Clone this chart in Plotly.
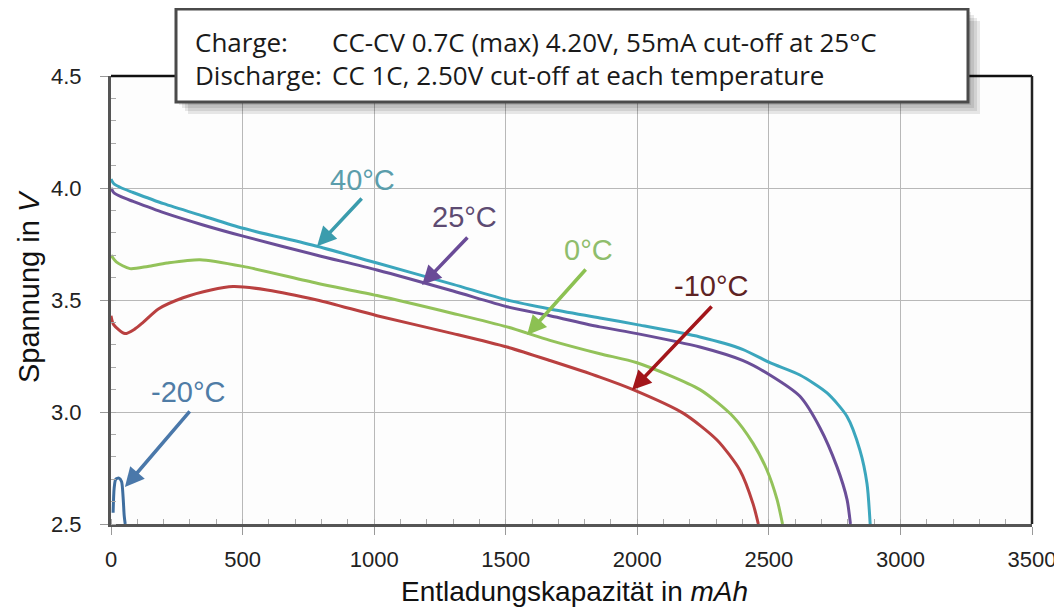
import plotly.graph_objects as go

# ---------------- data ----------------
x_40 = [0, 10, 40, 84, 200, 350, 502, 783, 1011, 1300, 1505, 1668, 1858, 1999, 2238, 2400, 2504, 2618, 2721, 2797, 2846, 2873, 2885]
v_40 = [4.04, 4.02, 4.00, 3.98, 3.93, 3.875, 3.82, 3.74, 3.665, 3.57, 3.50, 3.46, 3.42, 3.39, 3.335, 3.28, 3.22, 3.165, 3.085, 2.98, 2.83, 2.68, 2.50]

x_25 = [0, 10, 40, 84, 200, 350, 502, 783, 1011, 1300, 1505, 1668, 1858, 1999, 2238, 2400, 2504, 2618, 2694, 2759, 2797, 2810]
v_25 = [4.00, 3.98, 3.96, 3.94, 3.89, 3.835, 3.785, 3.70, 3.634, 3.54, 3.47, 3.43, 3.38, 3.35, 3.29, 3.23, 3.165, 3.07, 2.93, 2.755, 2.61, 2.50]

x_0 = [0, 20, 72, 140, 213, 338, 502, 783, 1011, 1300, 1505, 1668, 1858, 1999, 2238, 2364, 2440, 2493, 2531, 2552]
v_0 = [3.70, 3.67, 3.64, 3.65, 3.665, 3.68, 3.65, 3.575, 3.52, 3.44, 3.38, 3.32, 3.26, 3.22, 3.10, 2.98, 2.86, 2.74, 2.61, 2.50]

x_m10 = [0, 10, 53, 90, 122, 180, 274, 380, 464, 593, 783, 1011, 1300, 1505, 1668, 1858, 1984, 2174, 2303, 2390, 2440, 2460]
v_m10 = [3.43, 3.39, 3.35, 3.37, 3.40, 3.46, 3.51, 3.545, 3.56, 3.545, 3.50, 3.43, 3.35, 3.29, 3.23, 3.156, 3.10, 2.995, 2.875, 2.74, 2.59, 2.50]

x_m20 = [8, 12, 18, 30, 40, 46, 50, 54]
v_m20 = [2.55, 2.66, 2.70, 2.705, 2.69, 2.62, 2.54, 2.50]

x_ticks = [0, 500, 1000, 1500, 2000, 2500, 3000, 3500]
y_ticks = [2.5, 3.0, 3.5, 4.0, 4.5]

# label text positions, arrow tails and heads (data coordinates)
labels = ["40°C", "25°C", "0°C", "-10°C", "-20°C"]
label_x = [954, 1345, 1815, 2280, 293]
label_y = [4.036, 3.87, 3.723, 3.5625, 3.089]
tail_x = [958, 1360, 1809, 2288, 304]
tail_y = [3.96, 3.786, 3.643, 3.478, 3.009]
head_x = [783, 1182, 1581, 1980, 53]
head_y = [3.74, 3.567, 3.344, 3.098, 2.665]

line_colors = ["#3ba6bd", "#6a4e98", "#93c25a", "#b94040", "#3f6e9f"]
label_colors = ["#5b9dab", "#5d4b72", "#8fbd6c", "#5e2323", "#4f7ca6"]
arrow_colors = ["#3b9cad", "#6a4b97", "#8cc152", "#a3161b", "#4a78aa"]

box_line1_left = "Charge:"
box_line2_left = "Discharge:"
box_line1_right = "CC-CV 0.7C (max) 4.20V, 55mA cut-off at 25°C"
box_line2_right = "CC 1C, 2.50V cut-off at each temperature"
x_title = "Entladungskapazität in <i>mAh</i>"
y_title = "Spannung in <i>V</i>"

# ---------------- figure ----------------
# the page body has an 8px margin, so the figure starts at (8, 8) on screen
OFF = 8
W, H = 1062 - OFF, 610 - OFF
L, R, T, B = 111, 1032, 76, 524  # plot area in screen pixels


def px_x(p):
    return (p - L) / (R - L)


def px_y(p):
    return (B - p) / (B - T)


fig = go.Figure()
series = [(x_40, v_40), (x_25, v_25), (x_0, v_0), (x_m10, v_m10), (x_m20, v_m20)]
for i, (xs, ys) in enumerate(series):
    fig.add_trace(go.Scatter(
        x=xs, y=ys, mode="lines",
        line=dict(color=line_colors[i], width=3, shape="spline", smoothing=0.7),
        name=labels[i], showlegend=False))

annotations = []
for i in range(len(labels)):
    annotations.append(dict(
        x=label_x[i], y=label_y[i], xref="x", yref="y", text=labels[i],
        showarrow=False, font=dict(family="Liberation Sans, Arial", size=29, color=label_colors[i])))
    annotations.append(dict(
        x=head_x[i], y=head_y[i], xref="x", yref="y",
        ax=tail_x[i], ay=tail_y[i], axref="x", ayref="y", text="",
        showarrow=True, arrowhead=2, arrowsize=1.1, arrowwidth=3.5, arrowcolor=arrow_colors[i]))

box_font = dict(family="Open Sans, sans-serif", size=26, color="#1a1a1a")
for txt, xp, yp in [(box_line1_left, 193, 42), (box_line2_left, 193, 75),
                    (box_line1_right, 330, 42), (box_line2_right, 330, 75)]:
    annotations.append(dict(x=px_x(xp), y=px_y(yp), xref="paper", yref="paper", text=txt,
                            showarrow=False, xanchor="left", yanchor="middle", font=box_font))

annotations.append(dict(x=px_x(574), y=px_y(591), xref="paper", yref="paper", text=x_title,
                        showarrow=False, xanchor="center", yanchor="middle",
                        font=dict(family="Liberation Sans, Arial", size=28, color="#111111")))
annotations.append(dict(x=px_x(29), y=px_y(287), xref="paper", yref="paper", text=y_title,
                        showarrow=False, xanchor="center", yanchor="middle", textangle=-90,
                        font=dict(family="Liberation Sans, Arial", size=29, color="#111111")))

shapes = [
    dict(type="line", xref="paper", yref="paper", x0=0, x1=1, y0=1, y1=1,
         line=dict(color="#111111", width=2.5), layer="above"),
    dict(type="line", xref="paper", yref="paper", x0=1, x1=1, y0=0, y1=1,
         line=dict(color="#222222", width=2.5), layer="above"),
]
for k in range(4):
    off = 3 + 3 * k
    shapes.append(dict(type="rect", xref="paper", yref="paper",
                       x0=px_x(176 + off), x1=px_x(968 + off), y0=px_y(102 + off), y1=px_y(9 + off),
                       line=dict(width=0), fillcolor="rgba(0,0,0,0.09)", layer="above"))
shapes.append(dict(type="rect", xref="paper", yref="paper",
                   x0=px_x(176), x1=px_x(968), y0=px_y(102), y1=px_y(9),
                   line=dict(color="#4a4a4a", width=3), fillcolor="white", layer="above"))

fig.update_layout(
    width=W, height=H,
    margin=dict(l=L - OFF, r=W - (R - OFF), t=T - OFF, b=H - (B - OFF), autoexpand=False),
    paper_bgcolor="white", plot_bgcolor="#fdfdfd",
    annotations=annotations, shapes=shapes,
    showlegend=False,
    font=dict(family="Liberation Sans, Arial", color="#222222"),
)
fig.update_xaxes(
    range=[0, 3500], tickvals=x_ticks, ticktext=[str(v) for v in x_ticks],
    showgrid=True, gridcolor="#b8b8b8", gridwidth=1.2, zeroline=False,
    showline=True, linecolor="#555555", linewidth=3,
    ticks="outside", ticklen=8, tickcolor="#999999", tickwidth=1,
    minor=dict(dtick=100, ticks="inside", ticklen=5, tickcolor="#aaaaaa", showgrid=False),
    tickfont=dict(size=22, color="#222222"), automargin=False, ticklabelstandoff=6,
    ticklabeloverflow="allow",
)
fig.update_yaxes(
    range=[2.5, 4.5], tickvals=y_ticks, ticktext=["%.1f" % v for v in y_ticks],
    showgrid=True, gridcolor="#b8b8b8", gridwidth=1.2, zeroline=False,
    showline=True, linecolor="#555555", linewidth=3,
    ticks="outside", ticklen=8, tickcolor="#999999", tickwidth=1,
    minor=dict(dtick=0.1, ticks="inside", ticklen=5, tickcolor="#aaaaaa", showgrid=False),
    tickfont=dict(size=22, color="#222222"), automargin=False, ticklabelstandoff=14,
    ticklabeloverflow="allow",
)

fig.write_html("out.html")
